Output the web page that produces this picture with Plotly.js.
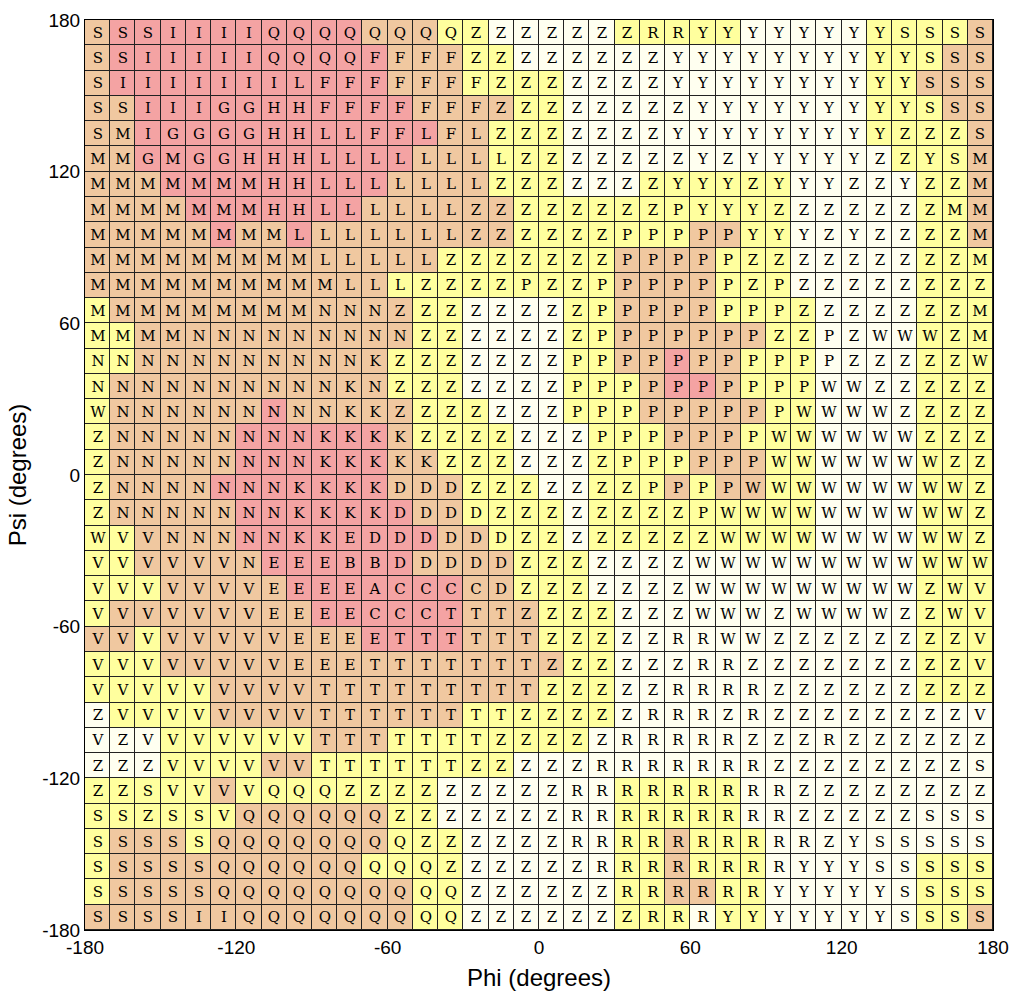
<!DOCTYPE html>
<html>
<head>
<meta charset="utf-8">
<script src="https://cdn.plot.ly/plotly-3.0.1.min.js"></script>
<style>
  body { margin: 0; background: #fff; }
  #chart { width: 1012px; height: 1004px; }
</style>
</head>
<body>
<div id="chart"></div>
<script>
// cell centres in degrees
var phiCenters = [-175,-165,-155,-145,-135,-125,-115,-105,-95,-85,-75,-65,-55,-45,-35,-25,-15,-5,
                  5,15,25,35,45,55,65,75,85,95,105,115,125,135,145,155,165,175];
var psiCenters = [175,165,155,145,135,125,115,105,95,85,75,65,55,45,35,25,15,5,
                  -5,-15,-25,-35,-45,-55,-65,-75,-85,-95,-105,-115,-125,-135,-145,-155,-165,-175];

var tickValues = [-180, -120, -60, 0, 60, 120, 180];
var tickLabels = ['-180', '-120', '-60', '0', '60', '120', '180'];

// one string per psi row (top to bottom), one letter per phi column
var cellLetters = [
  'SSSIIIIQQQQQ' + 'QQQZZZZZZZRR' + 'YYYYYYYYSSSS',
  'SSIIIIIQQQQF' + 'FFFZZZZZZZZY' + 'YYYYYYYYYSSS',
  'SIIIIIIILFFF' + 'FFFFZZZZZZZY' + 'YYYYYYYYYSSS',
  'SSIIIGGHHFFF' + 'FFFFZZZZZZZZ' + 'YYYYYYYYYSSS',
  'SMIGGGGHHLLF' + 'FLFLZZZZZZZY' + 'YYYYYYYYZZZS',
  'MMGMGGHHHLLL' + 'LLLLLZZZZZZZ' + 'YZYYYYYZZYSM',
  'MMMMMMMHHLLL' + 'LLLLZZZZZZZY' + 'YYZYYYZZYZZM',
  'MMMMMMMHHLLL' + 'LLLZZZZZZZZP' + 'YYYZZZZZZZMM',
  'MMMMMMMMLLLL' + 'LLLZZZZZZPPP' + 'PPYYYZYZZZZM',
  'MMMMMMMMMLLL' + 'LLZZZZZZZPPP' + 'PPZZZZZZZZZM',
  'MMMMMMMMMMLL' + 'LZZZZPZZPPPP' + 'PPZPZZZZZZZZ',
  'MMMMMMMMMNNN' + 'ZZZZZZZZPPPP' + 'PPPPZZZZZZZM',
  'MMMMNNNNNNNN' + 'NZZZZZZZPPPP' + 'PPPZZPZWWWZM',
  'NNNNNNNNNNNK' + 'ZZZZZZZPPPPP' + 'PPPPPPZZZZZW',
  'NNNNNNNNNNKN' + 'ZZZZZZZPPPPP' + 'PPPPPWWZZZZZ',
  'WNNNNNNNNNKK' + 'ZZZZZZZPPPPP' + 'PPPPWWWWZZZZ',
  'ZNNNNNNNNKKK' + 'KZZZZZZZPPPP' + 'PPPWWWWWWZZZ',
  'ZNNNNNNNNKKK' + 'KKZZZZZZZPPP' + 'PPPWWWWWWWZZ',
  'ZNNNNNNNKKKK' + 'DDDZZZZZZZPP' + 'PPWWWWWWWWWZ',
  'ZNNNNNNNKKKK' + 'DDDDZZZZZZZZ' + 'PWWWWWWWWWWZ',
  'WVVNNNNNKKED' + 'DDDDDZZZZZZZ' + 'ZWWWWWWWWWWZ',
  'VVVVVVNEEEBB' + 'DDDDDZZZZZZZ' + 'WWWWWWWWWWWW',
  'VVVVVVVEEEEA' + 'CCCCDZZZZZZZ' + 'WWWWWWWWWZWV',
  'VVVVVVVEEEEC' + 'CCTTTZZZZZZZ' + 'WWWZWWWWZZWV',
  'VVVVVVVVEEEE' + 'TTTTTTZZZZZR' + 'RWWZZZZZZZZV',
  'VVVVVVVVEEET' + 'TTTTTTZZZZZZ' + 'RRZZZZZZZZZV',
  'VVVVVVVVVTTT' + 'TTTTTTZZZZZR' + 'RRRZZZZZZZZZ',
  'ZVVVVVVVVTTT' + 'TTTTTZZZZZRR' + 'RZRZZZZZZZZV',
  'VZVVVVVVVTTT' + 'TTTTZZZZZRRR' + 'RRZZZRZZZZZZ',
  'ZZZVVVVVVTTT' + 'TTTZZZZZRRRR' + 'RRRZZZZZZZZS',
  'ZZSVVVVQQQZZ' + 'ZZZZZZZRRRRR' + 'RRRRZZZZZZZZ',
  'SSZSSVQQQQQQ' + 'ZZZZZZZRRRRR' + 'RRRRZZZZZSSS',
  'SSSSSQQQQQQQ' + 'QZZZZZZRRRRR' + 'RRRRRZYSSSSS',
  'SSSSSQQQQQQQ' + 'QQZZZZZZRRRR' + 'RRRRYYYSSSSS',
  'SSSSSQQQQQQQ' + 'QQQZZZZZZRRR' + 'RRRYYYYYSSSS',
  'SSSSIIQQQQQQ' + 'QQQZZZZZZZRR' + 'RYYYYYYYSSSS'
];

// shading level per cell: 0 pale, 1 yellow, 2 tan, 3 pink
var cellLevels = [
  '233333333332' + '221100000111' + '110000011112',
  '233333333333' + '222110000000' + '000000011122',
  '233333333333' + '222111100000' + '000000011222',
  '223333333333' + '322221100000' + '000000011122',
  '223333333333' + '332211100000' + '000000011112',
  '223333333333' + '322211100000' + '000000001112',
  '222333333333' + '222211100011' + '111100000112',
  '222233333332' + '222221111111' + '111100000112',
  '222223223222' + '222221111111' + '221100000112',
  '222222222222' + '221111111222' + '211100000111',
  '222222222222' + '111111111222' + '211100000111',
  '122222222222' + '211000011222' + '211110000111',
  '112222222222' + '211000011222' + '222110000111',
  '112222222222' + '111000011223' + '221110000111',
  '122222222222' + '111000011123' + '321110000111',
  '122222232222' + '211100011122' + '222110000111',
  '122222333333' + '211110001112' + '221110000111',
  '122222333333' + '221110001111' + '222110000111',
  '122223333333' + '222111001112' + '122110000111',
  '122222333333' + '322111101111' + '111110000111',
  '112222333333' + '332211101111' + '111110000111',
  '112222233333' + '322221110000' + '000000000111',
  '111222223333' + '333221110000' + '000000000111',
  '122222222333' + '333222111000' + '000000000111',
  '221222222223' + '333222111000' + '000000000111',
  '111222222222' + '222222211000' + '000000000111',
  '111112222222' + '222222111000' + '000000000111',
  '011112222222' + '222111111000' + '000000000000',
  '000111111222' + '111111110000' + '000000000000',
  '000111122111' + '111110000000' + '000000000000',
  '111112111111' + '110000000111' + '110000000000',
  '111111222222' + '110000000111' + '110000000000',
  '122212222222' + '111000000112' + '111000000000',
  '122222222221' + '111000000112' + '111000000111',
  '122222222222' + '211000000112' + '211000000111',
  '222222222222' + '211000000111' + '011000000112'
];

var levelColors = ['#FFFFF0', '#FFFF9E', '#F0C8A0', '#F4A3A3'];

function buildGrid(rows, asNumber) {
  return rows.map(function(row) {
    return row.split('').map(function(ch) { return asNumber ? parseInt(ch) : ch; });
  });
}

var zGrid = buildGrid(cellLevels, true);
var textGrid = buildGrid(cellLetters, false);

var trace = {
  type: 'heatmap',
  x: phiCenters,
  y: psiCenters,
  z: zGrid,
  text: textGrid,
  texttemplate: '%{text}',
  textfont: {family: 'DejaVu Serif, serif', size: 15, color: '#000'},
  zmin: 0,
  zmax: 3,
  colorscale: [[0, levelColors[0]], [1/3, levelColors[1]], [2/3, levelColors[2]], [1, levelColors[3]]],
  showscale: false,
  xgap: 1,
  ygap: 1,
  hoverinfo: 'skip'
};

var axisFont = {family: 'Liberation Sans, Arial, sans-serif', size: 19, color: '#000'};
var titleFont = {family: 'Liberation Sans, Arial, sans-serif', size: 24, color: '#000'};

var layout = {
  width: 1012,
  height: 1004,
  margin: {l: 85, r: 19, t: 20, b: 74, pad: 0},
  paper_bgcolor: '#fff',
  plot_bgcolor: '#222',
  xaxis: {
    range: [-180, 180],
    tickvals: tickValues,
    ticktext: tickLabels,
    ticks: '',
    showgrid: false,
    zeroline: false,
    showline: true,
    mirror: true,
    linecolor: '#000',
    linewidth: 1,
    tickfont: axisFont,
    title: {text: 'Phi (degrees)', font: titleFont, standoff: 12}
  },
  yaxis: {
    range: [-180, 180],
    tickvals: tickValues,
    ticktext: tickLabels,
    ticks: '',
    showgrid: false,
    zeroline: false,
    showline: true,
    mirror: true,
    linecolor: '#000',
    linewidth: 1,
    tickfont: axisFont,
    title: {text: 'Psi (degrees)', font: titleFont, standoff: 8}
  }
};

Plotly.newPlot('chart', [trace], layout, {displayModeBar: false, staticPlot: true});
</script>
</body>
</html>
